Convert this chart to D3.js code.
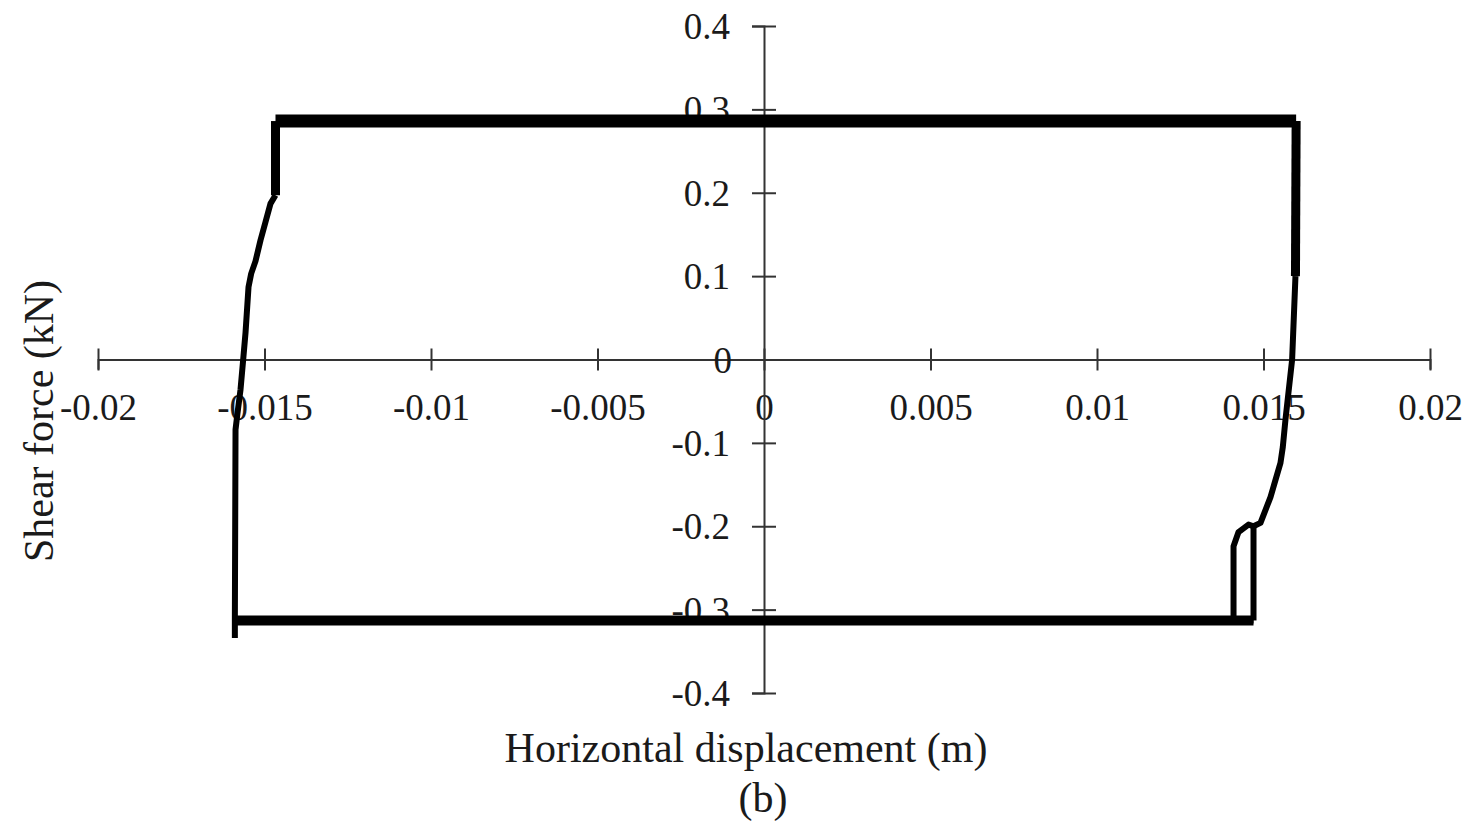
<!DOCTYPE html>
<meta charset="utf-8">
<style>
body { margin: 0; background: #fff; }
svg text { font-family: "Liberation Serif", "Times New Roman", serif; fill: #1a1a1a; }
.axis path, .axis line { fill: none; stroke: #333; stroke-width: 2px; }
.loop { fill: none; stroke: #000; stroke-linejoin: round; stroke-linecap: butt; }
</style>
<body>
<svg width="1480" height="833"></svg>
<script src="https://d3js.org/d3.v7.min.js"></script>
<script>
// tick values
var xTicks = [-0.02, -0.015, -0.01, -0.005, 0, 0.005, 0.01, 0.015, 0.02];
var yTicks = [-0.4, -0.3, -0.2, -0.1, 0, 0.1, 0.2, 0.3, 0.4];

// hysteresis branches, [displacement (m), shear (kN)]
var topPlateau = [[-0.01467, 0.286], [0.01598, 0.286]];
var bottomPlateau = [[0.0147, -0.313], [-0.01589, -0.313]];
var leftUpper = [[-0.01467, 0.286], [-0.01467, 0.197]];
var leftLower = [[-0.01467, 0.197], [-0.01482, 0.187], [-0.01497, 0.165], [-0.01512, 0.143],
  [-0.01527, 0.118], [-0.01540, 0.103], [-0.01548, 0.087], [-0.01557, 0.032],
  [-0.01564, 0.0], [-0.01572, -0.036], [-0.01581, -0.064], [-0.01587, -0.084],
  [-0.01589, -0.313], [-0.01589, -0.334]];
var rightUpper = [[0.01598, 0.286], [0.01596, 0.1]];
var rightLower = [[0.01596, 0.1], [0.01586, 0.0], [0.01566, -0.072], [0.01558, -0.105],
  [0.01551, -0.124], [0.01521, -0.165], [0.01491, -0.196], [0.0147, -0.2], [0.01455, -0.198],
  [0.01425, -0.207], [0.0141, -0.224], [0.0141, -0.313], [0.0147, -0.313]];
var rightLeg = [[0.0147, -0.2], [0.0147, -0.313]];

var svg = d3.select("svg");

var x = d3.scaleLinear().domain([-0.02, 0.02]).range([98, 1430]);
var y = d3.scaleLinear().domain([-0.4, 0.4]).range([693, 26]);

var line = d3.line()
    .x(function(d) { return x(d[0]); })
    .y(function(d) { return y(d[1]); });

// plain hyphen minus, like the source figure
function fmt(d) { return String(+d.toFixed(3)); }

// x axis through y = 0
var gx = svg.append("g")
    .attr("class", "x axis")
    .attr("transform", "translate(0," + y(0) + ")")
    .call(d3.axisBottom(x).tickValues(xTicks).tickSizeOuter(0).tickSize(10).tickFormat(fmt));
gx.selectAll(".tick line").attr("y1", -11).attr("y2", 11);
gx.selectAll(".tick text")
    .attr("y", 60).attr("dy", 0)
    .style("font-size", "37px");

// y axis through x = 0
var gy = svg.append("g")
    .attr("class", "y axis")
    .attr("transform", "translate(" + x(0) + ",0)")
    .call(d3.axisLeft(y).tickValues(yTicks).tickSizeOuter(0).tickSize(12).tickFormat(fmt));
gy.selectAll(".tick line").attr("x1", -12).attr("x2", 12);
gy.selectAll(".tick text")
    .attr("x", -34)
    .attr("dy", "0.34em")
    .style("font-size", "37px");
gy.selectAll(".tick").filter(function(d) { return d === 0; }).select("text").attr("x", -32);

// loop branches
var branches = [
  {pts: bottomPlateau, w: 10},
  {pts: leftLower, w: 6},
  {pts: rightLower, w: 6},
  {pts: rightLeg, w: 6},
  {pts: leftUpper, w: 9},
  {pts: rightUpper, w: 9},
  {pts: topPlateau, w: 13}
];
svg.selectAll(".loop")
    .data(branches)
  .enter().append("path")
    .attr("class", "loop")
    .attr("d", function(d) { return line(d.pts); })
    .attr("stroke-width", function(d) { return d.w; });

// titles
svg.append("text")
    .attr("x", 746).attr("y", 762)
    .attr("text-anchor", "middle")
    .style("font-size", "42px")
    .text("Horizontal displacement (m)");
svg.append("text")
    .attr("x", 763).attr("y", 812)
    .attr("text-anchor", "middle")
    .style("font-size", "42px")
    .text("(b)");
svg.append("text")
    .attr("transform", "translate(53,421) rotate(-90)")
    .attr("text-anchor", "middle")
    .style("font-size", "42px")
    .text("Shear force (kN)");
</script>
</body>
</html>
